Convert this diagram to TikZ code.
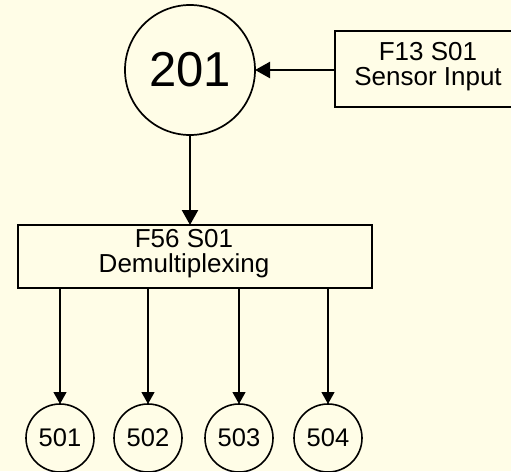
\documentclass[tikz,border=0pt]{standalone}
\usepackage{fontspec}
\setmainfont{Liberation Sans}
\usetikzlibrary{arrows.meta}
\definecolor{bgc}{RGB}{255,253,231}
\begin{document}
\begin{tikzpicture}[x=1pt,y=-1pt,
  every node/.style={inner sep=0pt,outer sep=0pt},
  bigcirc/.style={draw,circle,line width=1.7pt,minimum size=130pt,font=\fontsize{49}{49}\selectfont},
  smallcirc/.style={draw,circle,line width=1.6pt,minimum size=68pt,font=\fontsize{25.5}{25.5}\selectfont},
  boxnode/.style={draw,rectangle,line width=2.4pt},
  txt/.style={align=center,font=\fontsize{26}{25}\selectfont},
  thickarrow/.style={line width=2.3pt,-{Triangle[length=15pt,width=16pt]}},
  thinarrow/.style={line width=1.2pt,-{Triangle[length=12pt,width=13pt]}}]
\fill[bgc] (0,0) rectangle (511,471);
\useasboundingbox (0,0) rectangle (511,471);
\begin{scope}
\clip (0,0) rectangle (511,471);
\node[bigcirc] (c201) at (190,70) {201};
\node[boxnode,minimum width=186pt,minimum height=76pt] (sensor) at (428,69) {};
\node[txt] (sensortxt) at (428,67) {F13 S01\\Sensor Input};
\node[boxnode,minimum width=354pt,minimum height=63pt] (demux) at (195,256.5) {};
\node[txt] (demuxtxt) at (184,254) {F56 S01\\Demultiplexing};
\node[smallcirc] (c501) at (60,438) {501};
\node[smallcirc] (c502) at (148,438) {502};
\node[smallcirc] (c503) at (239,438) {503};
\node[smallcirc] (c504) at (328,438) {504};
\end{scope}
\draw[thickarrow] (sensor.west |- c201) -- (c201.east);
\draw[thickarrow] (c201.south) -- (c201.south |- demux.north);
\foreach \n in {501,502,503,504}
  \draw[thinarrow] (c\n |- demux.south) -- (c\n.north);
\end{tikzpicture}
\end{document}
